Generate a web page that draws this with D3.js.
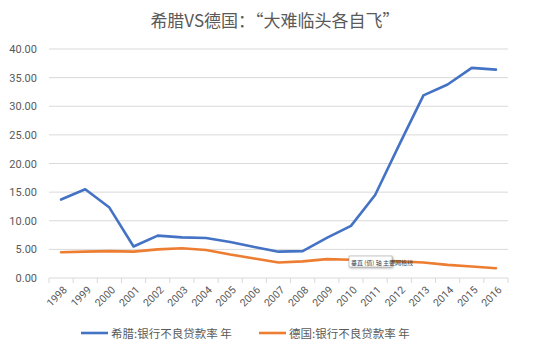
<!DOCTYPE html>
<html><head><meta charset="utf-8">
<script src="https://cdn.jsdelivr.net/npm/d3@7"></script>
<style>body{margin:0;background:#fff}svg{display:block}</style>
</head><body>
<svg id="c" width="550" height="350"></svg>
<script>
const years = ["1998","1999","2000","2001","2002","2003","2004","2005","2006","2007","2008","2009","2010","2011","2012","2013","2014","2015","2016"];
const greece = [13.7,15.5,12.3,5.5,7.4,7.1,7.0,6.3,5.4,4.6,4.7,7.0,9.1,14.5,23.3,31.9,33.8,36.7,36.4];
const germany = [4.5,4.6,4.7,4.6,5.0,5.2,4.9,4.1,3.4,2.7,2.9,3.3,3.2,3.0,2.9,2.7,2.3,2.0,1.7];
const yTicks = [0,5,10,15,20,25,30,35,40];
const seriesNames = ["希腊:银行不良贷款率 年","德国:银行不良贷款率 年"];
const colors = ["#4472C4","#ED7D31"];

const svg = d3.select("#c");
const m = {l:49, r:508, t:49, b:278};
const x = d3.scaleBand().domain(years).range([m.l, m.r]);
const y = d3.scaleLinear().domain([0,40]).range([m.b, m.t]);

svg.append("text").attr("x",275).attr("y",27).attr("text-anchor","middle")
  .attr("font-family","'Noto Sans CJK SC'").attr("font-size",17).attr("fill","#595959")
  .text("希腊VS德国：“大难临头各自飞”");

// grid
svg.append("g").selectAll("line").data(yTicks.filter(d=>d>0)).join("line")
  .attr("x1",m.l).attr("x2",m.r).attr("y1",d=>y(d)).attr("y2",d=>y(d))
  .attr("stroke","#d9d9d9").attr("stroke-width",1);

// y labels
svg.append("g").selectAll("text").data(yTicks).join("text")
  .attr("x",37).attr("y",d=>y(d)+4).attr("text-anchor","end")
  .attr("font-family","Roboto, 'Open Sans', sans-serif").attr("font-size",11).attr("fill","#595959")
  .text(d=>d.toFixed(2));

// x axis
const xa = svg.append("g").attr("transform",`translate(0,${m.b})`);
xa.append("line").attr("x1",m.l).attr("x2",m.r).attr("stroke","#d9d9d9");
const bounds = years.map(d=>x(d)).concat([x(years[years.length-1])+x.bandwidth()]);
xa.selectAll("line.t").data(bounds).join("line").attr("class","t")
  .attr("x1",d=>d).attr("x2",d=>d).attr("y1",0).attr("y2",5).attr("stroke","#d9d9d9");
xa.selectAll("text").data(years).join("text")
  .attr("transform",d=>`translate(${x(d)+x.bandwidth()/2+4},${10}) rotate(-45)`)
  .attr("text-anchor","end").attr("dy","0.35em")
  .attr("font-family","Roboto, 'Open Sans', sans-serif").attr("font-size",10.5).attr("fill","#595959")
  .text(d=>d);

const line = d3.line().x((d,i)=>x(years[i])+x.bandwidth()/2).y(d=>y(d));
[greece, germany].forEach((s,i)=>{
  svg.append("path").datum(s).attr("d",line).attr("fill","none")
    .attr("stroke",colors[i]).attr("stroke-width",2.6).attr("stroke-linejoin","round").attr("stroke-linecap","round");
});

// tooltip
const tt = svg.append("g").attr("transform","translate(349,256)");
tt.append("rect").attr("width",43).attr("height",11).attr("fill","#fff").attr("stroke","#a6a6a6").attr("stroke-width",0.6)
  .style("filter","drop-shadow(1px 1px 1px rgba(0,0,0,0.3))");
tt.append("text").attr("x",2).attr("y",8.5).attr("font-family","'Noto Sans CJK SC'").attr("font-size",6).attr("fill","#444")
  .text("垂直 (值) 轴 主要网格线");

// legend
const lx = [81, 259];
seriesNames.forEach((n,i)=>{
  const g = svg.append("g").attr("transform",`translate(${lx[i]},333)`);
  g.append("line").attr("x1",0).attr("x2",27).attr("stroke",colors[i]).attr("stroke-width",2.6);
  g.append("text").attr("x",30).attr("y",4.5).attr("font-family","'Noto Sans CJK SC'").attr("font-size",11.5).attr("fill","#595959").text(n);
});
</script>
</body></html>
